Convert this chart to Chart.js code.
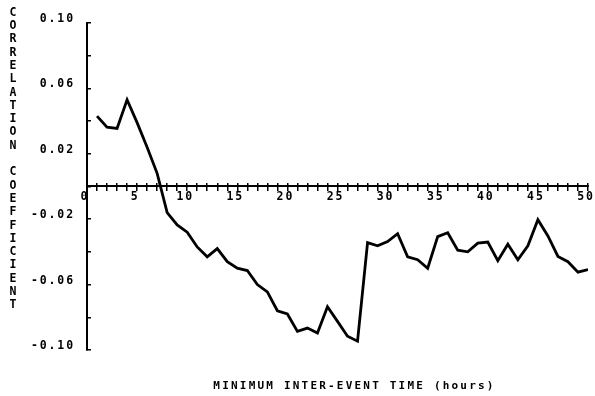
<!DOCTYPE html>
<html>
<head>
<meta charset="utf-8">
<script src="https://cdn.jsdelivr.net/npm/chart.js@4"></script>
<style>
  html, body { margin: 0; padding: 0; background: #ffffff; }
  #wrap { width: 595px; height: 396px; position: relative; }
</style>
</head>
<body>
<div id="wrap"><canvas id="chart"></canvas></div>
<script>
// Minimum inter-event time (hours)
const hours = [1, 2, 3, 4, 5, 6, 7, 8, 9, 10,
               11, 12, 13, 14, 15, 16, 17, 18, 19, 20,
               21, 22, 23, 24, 25, 26, 27, 28, 29, 30,
               31, 32, 33, 34, 35, 36, 37, 38, 39, 40,
               41, 42, 43, 44, 45, 46, 47, 48, 49, 50];

// Correlation coefficient for each minimum inter-event time
const correlation = [0.043, 0.0363, 0.0355, 0.053, 0.039, 0.024, 0.008, -0.016, -0.0235, -0.028,
                     -0.037, -0.043, -0.038, -0.046, -0.050, -0.0514, -0.060, -0.0645, -0.076, -0.078,
                     -0.0886, -0.0866, -0.0896, -0.0735, -0.0825, -0.0916, -0.0946, -0.0343, -0.0363, -0.0337,
                     -0.0289, -0.043, -0.0448, -0.050, -0.0307, -0.0283, -0.039, -0.040, -0.0347, -0.034,
                     -0.0454, -0.0353, -0.0448, -0.0363, -0.0203, -0.0303, -0.0428, -0.046, -0.0524, -0.0508];

// Labelled ticks
const xTickLabels = ['0', '5', '10', '15', '20', '25', '30', '35', '40', '45', '50'];
const yTickLabels = ['0.10', '0.06', '0.02', '-0.02', '-0.06', '-0.10'];

const xTitle = 'MINIMUM INTER-EVENT TIME (hours)';
const yTitle = 'CORRELATION COEFFICIENT';

const MONO = '"DejaVu Sans Mono", "Liberation Mono", monospace';

// Wide plotter-style letter spacing for all text
const spacingPlugin = {
  id: 'plotterSpacing',
  beforeDraw(chart) {
    chart.ctx.letterSpacing = '1.9px';
  }
};

// Axis titles: the x title under the plot, the y title as stacked upright letters
const axisTitles = {
  id: 'axisTitles',
  afterDraw(chart) {
    const ctx = chart.ctx;
    ctx.save();
    ctx.fillStyle = '#000';
    ctx.textBaseline = 'alphabetic';
    ctx.textAlign = 'center';
    ctx.font = 'bold 11px ' + MONO;
    ctx.letterSpacing = '2.2px';
    ctx.fillText(xTitle, 354.5, 388.5);

    ctx.font = 'bold 11.5px ' + MONO;
    ctx.letterSpacing = '0px';
    ctx.textBaseline = 'middle';
    const chars = Array.from(yTitle);
    chars.forEach((ch, i) => {
      if (ch !== ' ') ctx.fillText(ch, 13, 12.8 + i * 13.3);
    });
    ctx.restore();
  }
};

const tickFont = { family: MONO, size: 11.5, weight: 'bold' };

new Chart(document.getElementById('chart'), {
  type: 'line',
  data: {
    datasets: [{
      data: hours.map((h, i) => ({ x: h, y: correlation[i] })),
      borderColor: '#000',
      borderWidth: 2.8,
      pointRadius: 0,
      tension: 0,
      fill: false,
      xAxisID: 'x',
      yAxisID: 'y'
    }]
  },
  options: {
    responsive: true,
    maintainAspectRatio: false,
    animation: false,
    layout: { padding: { left: 0, right: 7, top: 17, bottom: 46 } },
    plugins: {
      legend: { display: false },
      tooltip: { enabled: false },
      title: { display: false }
    },
    scales: {
      y: {
        type: 'linear',
        position: 'left',
        min: -0.10,
        max: 0.10,
        afterFit: s => { s.width = 87; },
        border: { display: true, color: '#000', width: 2 },
        grid: { drawOnChartArea: false, drawTicks: true, tickLength: -4, color: '#000', lineWidth: 1.5 },
        ticks: {
          stepSize: 0.02,
          color: '#000',
          font: tickFont,
          padding: 16,
          labelOffset: -4,
          callback: v => {
            const s = Number(v).toFixed(2);
            return yTickLabels.includes(s) ? s : '';
          }
        }
      },
      x: {
        type: 'linear',
        position: { y: 0 },
        min: 0,
        max: 50,
        border: { display: true, color: '#000', width: 2 },
        grid: { drawOnChartArea: false, drawTicks: true, tickLength: 4, color: '#000', lineWidth: 1.5 },
        ticks: {
          stepSize: 1,
          autoSkip: false,
          maxRotation: 0,
          color: '#000',
          font: tickFont,
          padding: 0,
          labelOffset: -2,
          callback: v => {
            const s = String(Math.round(v));
            return xTickLabels.includes(s) ? s : '';
          }
        }
      },
      x2: {
        type: 'linear',
        position: { y: 0 },
        min: 0,
        max: 50,
        border: { display: true, color: '#000', width: 2 },
        grid: { drawOnChartArea: false, drawTicks: true, tickLength: -4, color: '#000', lineWidth: 1.5 },
        ticks: { display: false, stepSize: 1, autoSkip: false }
      }
    }
  },
  plugins: [spacingPlugin, axisTitles]
});
</script>
</body>
</html>
